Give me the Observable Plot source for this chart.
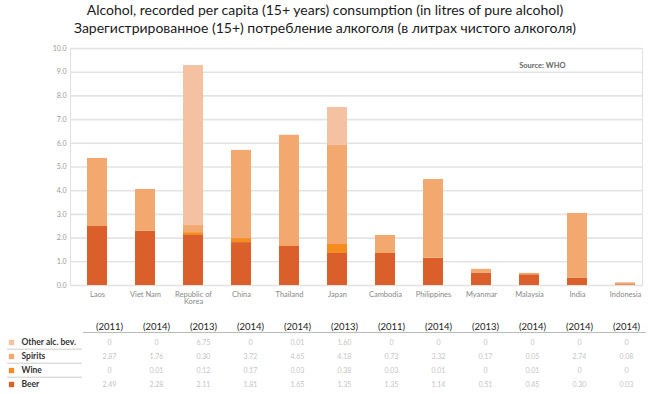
<!DOCTYPE html>
<html><head><meta charset="utf-8">
<script src="https://cdn.jsdelivr.net/npm/d3@7"></script>
<script src="https://cdn.jsdelivr.net/npm/@observablehq/plot@0.6"></script>
<style>
body{margin:0;background:#fff;font-family:Lato,"Open Sans",sans-serif;}
#wrap{width:650px;}
.title{text-align:center;font-size:14px;line-height:18px;color:#1a1a1a;padding-top:1px;height:40px;box-sizing:border-box;}
svg{display:block;}
</style></head>
<body>
<div id="wrap">
<div class="title">Alcohol, recorded per capita (15+ years) consumption (in litres of pure alcohol)<br>Зарегистрированное (15+) потребление алкоголя (в литрах чистого алкоголя)</div>
<div id="chart"></div>
<div id="table"></div>
</div>
<script>
const countries = ["Laos","Viet Nam","Republic of Korea","China","Thailand","Japan","Cambodia","Philippines","Myanmar","Malaysia","India","Indonesia"];
const years = ["(2011)","(2014)","(2013)","(2014)","(2014)","(2013)","(2011)","(2014)","(2013)","(2014)","(2014)","(2014)"];
const beer    = [2.49, 2.28, 2.11, 1.81, 1.65, 1.35, 1.35, 1.14, 0.51, 0.45, 0.30, 0.03];
const wine    = [0.00, 0.01, 0.12, 0.17, 0.03, 0.38, 0.03, 0.01, 0.00, 0.01, 0.00, 0.00];
const spirits = [2.87, 1.76, 0.30, 3.72, 4.65, 4.18, 0.73, 3.32, 0.17, 0.05, 2.74, 0.08];
const other   = [0.00, 0.00, 6.75, 0.00, 0.01, 1.60, 0.00, 0.00, 0.00, 0.00, 0.00, 0.00];
const seriesNames = ["Beer","Wine","Spirits","Other alc. bev."];
const seriesColors = ["#db5f2a","#f58c22","#f2a86e","#f4c2a2"];
const tableRows = ["Other alc. bev.","Spirits","Wine","Beer"];
const yTicks = [0,1,2,3,4,5,6,7,8,9,10];
const sourceText = "Source: WHO";

const seriesValues = {"Beer": beer, "Wine": wine, "Spirits": spirits, "Other alc. bev.": other};
const long = [];
for (const s of seriesNames) countries.forEach((c, i) => long.push({country: c, series: s, value: seriesValues[s][i]}));

const xOpts = {domain: countries, paddingInner: 0.586, paddingOuter: 0.218, align: 0.71};
const colorOpts = {domain: seriesNames, range: seriesColors};

const chart = Plot.plot({
  width: 650, height: 275,
  marginTop: 8, marginBottom: 30, marginLeft: 70, marginRight: 8,
  x: {...xOpts, label: null},
  y: {domain: [0, 10], label: null},
  color: colorOpts,
  style: {fontFamily: "Lato, 'Open Sans', sans-serif", fontSize: "8px", color: "#888", background: "#fff"},
  marks: [
    Plot.gridY(yTicks, {stroke: "#e3e3e3", strokeOpacity: 1, strokeWidth: 1.6}),
    Plot.frame({stroke: "#e0e0e0"}),
    Plot.axisY(yTicks, {tickSize: 0, tickPadding: 4, tickFormat: d3.format(".1f"), fontSize: 7, fill: "#999", label: null}),
    Plot.axisX({tickSize: 0, tickPadding: 6, label: null, fill: "#888", fontSize: 7.5,
      tickFormat: d => d === "Republic of Korea" ? "Republic of\nKorea" : d}),
    Plot.barY(long, {x: "country", y: "value", fill: "series", order: seriesNames}),
    Plot.text([sourceText], {frameAnchor: "top-right", dx: -77, dy: 14, textAnchor: "end", fontWeight: "bold", fill: "#666", fontSize: 7.5})
  ]
});
document.getElementById("chart").append(chart);

const cells = [];
for (const r of tableRows) countries.forEach((c, i) => cells.push({country: c, series: r, value: seriesValues[r][i]}));
const fmt = v => v === 0 ? "0" : v.toFixed(2);

const table = Plot.plot({
  width: 650, height: 79,
  marginTop: 26, marginBottom: 9, marginLeft: 70, marginRight: 8,
  x: {...xOpts, axis: null},
  y: {domain: tableRows, type: "point", padding: 0, axis: null},
  color: colorOpts,
  style: {fontFamily: "Lato, 'Open Sans', sans-serif", fontSize: "8px", background: "#fff"},
  marks: [
    Plot.text(countries, {x: d => d, text: (d, i) => years[i], frameAnchor: "top", dy: -18, fontSize: 9.5, fill: "#222"}),
    Plot.frame({anchor: "top", dy: -9, insetLeft: 13, insetRight: -3, stroke: "#bbb"}),
    Plot.ruleY(tableRows.slice(1), {y: d => d, dy: -7.3, dx: -63, insetRight: 497, stroke: "#ccc"}),
    Plot.dot(tableRows, {y: d => d, frameAnchor: "left", dx: -59, symbol: "square", r: 3, fill: d => d, stroke: null}),
    Plot.text(tableRows, {y: d => d, text: d => d, frameAnchor: "left", dx: -49, textAnchor: "start", fontWeight: "bold", fontSize: 8.5, fill: "#333"}),
    Plot.text(cells, {x: "country", y: "series", text: d => fmt(d.value), fontSize: 7, fill: "#c4c4c4"})
  ]
});
document.getElementById("table").append(table);
</script>
</body></html>
